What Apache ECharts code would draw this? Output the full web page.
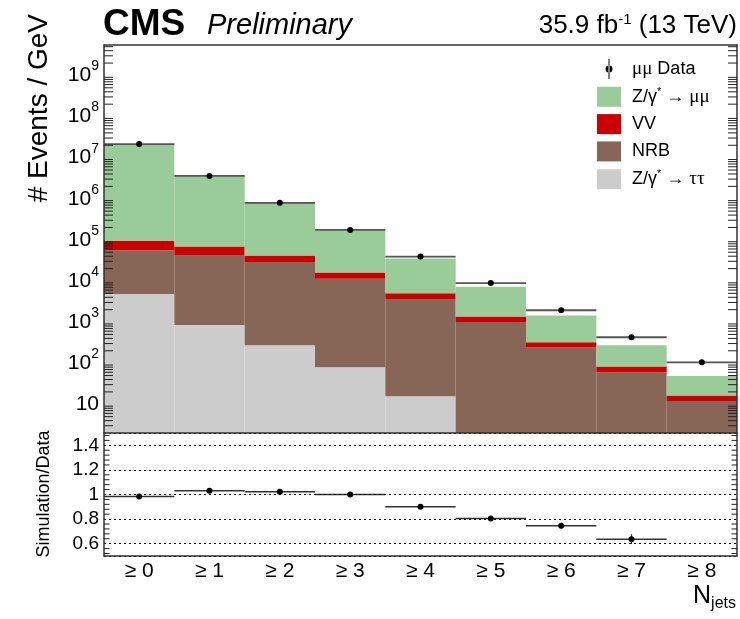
<!DOCTYPE html>
<html>
<head>
<meta charset="utf-8">
<script src="https://cdn.jsdelivr.net/npm/echarts@6/dist/echarts.min.js"></script>
<style>
  html, body { margin: 0; padding: 0; background: #fff; }
  #chart { width: 740px; height: 619px; }
</style>
</head>
<body>
<div id="chart"></div>
<script>
// Jet-multiplicity bins
const categories = ['≥ 0', '≥ 1', '≥ 2', '≥ 3', '≥ 4', '≥ 5', '≥ 6', '≥ 7', '≥ 8'];

// Stacked simulation contributions (events / GeV), bottom to top
const zTauTau = [4800, 850, 273, 79, 15.7, 0, 0, 0, 0];
const nrb     = [51000, 42000, 28700, 11300, 3630, 1000, 239, 60, 12.0];
const vv      = [38000, 26000, 12500, 4600, 1350, 360, 84, 22.6, 4.3];
const zMuMu   = [2.10e7, 3.63e6, 7.7e5, 1.58e5, 3.03e4, 5840, 1120, 190, 32.6];

// Observed dimuon events
const dataYield = [2.14e7, 3.59e6, 7.95e5, 1.74e5, 3.92e4, 8900, 1940, 427, 105];

// Simulation / data ratio and its uncertainty
const ratio    = [0.984, 1.030, 1.022, 1.000, 0.901, 0.804, 0.745, 0.637, 0.466];
const ratioErr = [0.002, 0.002, 0.003, 0.004, 0.007, 0.012, 0.020, 0.040, 0.070];

const FONT = 'Liberation Sans';
const FRAME = '#333';
const Y_MIN = 2, Y_MAX = 5.5e9;
const R_MIN = 0.5, R_MAX = 1.5;

// cumulative stack boundaries
const layers = [
  { name: 'Z/γ* → ττ', color: '#cccccc', values: zTauTau },
  { name: 'NRB',        color: '#876658', values: nrb },
  { name: 'VV',         color: '#cc0000', values: vv },
  { name: 'Z/γ* → μμ', color: '#99cc99', values: zMuMu }
];
const running = categories.map(() => 0);
layers.forEach(l => {
  l.rows = categories.map((c, i) => {
    const lo = running[i];
    running[i] += l.values[i];
    return [i, lo, running[i]];
  });
});

function histSeries(layer) {
  return {
    type: 'custom',
    name: layer.name,
    xAxisIndex: 0, yAxisIndex: 0,
    z: 2,
    itemStyle: { color: layer.color },
    data: layer.rows,
    renderItem(params, api) {
      const i = api.value(0), lo = api.value(1), hi = api.value(2);
      if (!(hi > lo) || hi <= Y_MIN) return null;
      const cs = params.coordSys;
      const w = cs.width / categories.length;
      const cx = api.coord([i, hi])[0];
      const yTop = Math.max(cs.y, api.coord([i, hi])[1]);
      const yBot = lo > Y_MIN ? api.coord([i, lo])[1] : cs.y + cs.height;
      return {
        type: 'rect',
        shape: { x: cx - w / 2, y: yTop, width: w, height: yBot - yTop },
        style: { fill: layer.color }
      };
    }
  };
}

// minor ticks: 2..9 per decade on the log scale
const logMinor = [];
for (let k = 0; k <= 9; k++) {
  for (let m = 2; m <= 9; m++) {
    const v = m * Math.pow(10, k);
    if (v > Y_MIN && v < Y_MAX) logMinor.push([0, v]);
  }
}
// minor ticks every 0.04 on the ratio scale
const ratioMinor = [];
for (let j = 13; j <= 37; j++) {
  if (j % 5 !== 0) ratioMinor.push([0, +(j * 0.04).toFixed(2)]);
}

function tickSeries(xi, yi, data, len) {
  return {
    type: 'custom',
    xAxisIndex: xi, yAxisIndex: yi,
    silent: true,
    z: 6,
    data,
    renderItem(params, api) {
      const cs = params.coordSys;
      const y = api.coord([0, api.value(1)])[1];
      return {
        type: 'group',
        children: [
          { type: 'line', shape: { x1: cs.x, y1: y, x2: cs.x + len, y2: y },
            style: { stroke: '#222', lineWidth: 1 } },
          { type: 'line', shape: { x1: cs.x + cs.width - len, y1: y, x2: cs.x + cs.width, y2: y },
            style: { stroke: '#222', lineWidth: 1 } }
        ]
      };
    }
  };
}

const dataSeries = {
  type: 'custom',
  name: 'μμ Data',
  xAxisIndex: 0, yAxisIndex: 0,
  z: 4,
  itemStyle: { color: '#000' },
  data: dataYield.map((v, i) => [i, v]),
  renderItem(params, api) {
    const cs = params.coordSys;
    const w = cs.width / categories.length;
    const p = api.coord([api.value(0), api.value(1)]);
    return {
      type: 'group',
      children: [
        { type: 'line', shape: { x1: p[0] - w / 2, y1: p[1], x2: p[0] + w / 2, y2: p[1] },
          style: { stroke: '#555', lineWidth: 1.8 } },
        { type: 'circle', shape: { cx: p[0], cy: p[1], r: 3 }, style: { fill: '#000' } }
      ]
    };
  }
};

const ratioSeries = {
  type: 'custom',
  name: 'ratio',
  xAxisIndex: 2, yAxisIndex: 2,
  z: 4,
  data: ratio.map((v, i) => [i, v, ratioErr[i]]),
  renderItem(params, api) {
    const v = api.value(1), e = api.value(2);
    if (v < R_MIN || v > R_MAX) return null;
    const cs = params.coordSys;
    const w = cs.width / categories.length;
    const p = api.coord([api.value(0), v]);
    const yHi = Math.max(cs.y, api.coord([0, v + e])[1]);
    const yLo = Math.min(cs.y + cs.height, api.coord([0, v - e])[1]);
    return {
      type: 'group',
      children: [
        { type: 'line', shape: { x1: p[0] - w / 2, y1: p[1], x2: p[0] + w / 2, y2: p[1] },
          style: { stroke: '#333', lineWidth: 1.5 } },
        { type: 'line', shape: { x1: p[0], y1: yHi, x2: p[0], y2: yLo },
          style: { stroke: '#333', lineWidth: 1.2 } },
        { type: 'circle', shape: { cx: p[0], cy: p[1], r: 3 }, style: { fill: '#000' } }
      ]
    };
  }
};

const frameLine = { show: true, onZero: false, lineStyle: { color: FRAME, width: 1.5 } };

const option = {
  animation: false,
  backgroundColor: '#fff',
  textStyle: { fontFamily: FONT, color: '#000' },
  grid: [
    { left: 104, top: 45, width: 633, height: 388 },
    { left: 104, top: 433, width: 633, height: 123 }
  ],
  xAxis: [
    { gridIndex: 0, type: 'category', position: 'bottom', data: categories, z: 5,
      axisLine: frameLine,
      axisTick: { inside: true, alignWithLabel: true, length: 10, interval: 0, lineStyle: { color: '#222' } },
      axisLabel: { show: false }, splitLine: { show: false } },
    { gridIndex: 0, type: 'category', position: 'top', data: categories, z: 5,
      axisLine: frameLine,
      axisTick: { inside: true, alignWithLabel: true, length: 10, interval: 0, lineStyle: { color: '#222' } },
      axisLabel: { show: false }, splitLine: { show: false } },
    { gridIndex: 1, type: 'category', position: 'bottom', data: categories, z: 5,
      axisLine: frameLine,
      axisTick: { inside: true, alignWithLabel: true, length: 5, interval: 0, lineStyle: { color: '#222' } },
      axisLabel: { show: true, interval: 0, margin: 5, fontSize: 21, color: '#000', fontFamily: FONT },
      splitLine: { show: false } }
  ],
  yAxis: [
    { gridIndex: 0, type: 'log', logBase: 10, min: Y_MIN, max: Y_MAX, position: 'left', z: 5,
      axisLine: frameLine,
      axisTick: { inside: true, length: 18, lineStyle: { color: '#222' } },
      splitLine: { show: false },
      axisLabel: {
        showMinLabel: false, showMaxLabel: false, margin: 5, color: '#000',
        formatter(v) {
          const e = Math.round(Math.log10(v));
          return e === 1 ? '{b|10}' : '{b|10}{s|' + e + '}';
        },
        rich: {
          b: { fontSize: 21, lineHeight: 22, fontFamily: FONT, color: '#000' },
          s: { fontSize: 14, lineHeight: 14, padding: [0, 0, 18, 0], fontFamily: FONT, color: '#000' }
        }
      } },
    { gridIndex: 0, type: 'log', logBase: 10, min: Y_MIN, max: Y_MAX, position: 'right', z: 5,
      axisLine: frameLine,
      axisTick: { inside: true, length: 18, lineStyle: { color: '#222' } },
      splitLine: { show: false }, axisLabel: { show: false } },
    { gridIndex: 1, type: 'value', min: R_MIN, max: R_MAX, position: 'left', z: 5,
      axisLine: frameLine,
      axisTick: { inside: true, length: 11, lineStyle: { color: '#222' } },
      splitLine: { show: true, lineStyle: { type: [2, 3], color: '#000', width: 1 } },
      axisLabel: { showMinLabel: false, showMaxLabel: false, margin: 5, fontSize: 19, color: '#000', fontFamily: FONT } },
    { gridIndex: 1, type: 'value', min: R_MIN, max: R_MAX, position: 'right', z: 5,
      axisLine: frameLine,
      axisTick: { inside: true, length: 11, lineStyle: { color: '#222' } },
      splitLine: { show: false }, axisLabel: { show: false } }
  ],
  legend: {
    orient: 'vertical',
    left: 597, top: 59,
    padding: 0,
    itemWidth: 24, itemHeight: 20, itemGap: 7.3,
    selectedMode: false,
    data: [
      { name: 'μμ Data', icon: 'path://M11.5,0 h1 v20 h-1 Z M12,6.5 a3.5,3.5 0 1,0 0.001,0 Z' },
      { name: 'Z/γ* → μμ', icon: 'rect' },
      { name: 'VV', icon: 'rect' },
      { name: 'NRB', icon: 'rect' },
      { name: 'Z/γ* → ττ', icon: 'rect' }
    ],
    formatter(name) {
      return name
        .replace('*', '{sup|*}')
        .replace('μμ', '{g|μμ}')
        .replace('ττ', '{g|ττ}');
    },
    textStyle: {
      fontSize: 18, fontFamily: FONT, color: '#000', padding: [0, 0, 0, 6],
      rich: {
        g: { fontSize: 19, fontFamily: 'Liberation Serif', color: '#000' },
        sup: { fontSize: 11, padding: [0, 0, 10, 0], verticalAlign: 'top', color: '#000' }
      }
    }
  },
  graphic: [
    { type: 'text', x: 103, y: 25,
      style: { text: 'CMS', font: 'bold 37px "Liberation Sans"', fill: '#000', align: 'left', verticalAlign: 'middle' } },
    { type: 'text', x: 207, y: 26,
      style: { text: 'Preliminary', font: 'italic 29px "Liberation Sans"', fill: '#000', align: 'left', verticalAlign: 'middle' } },
    { type: 'text', x: 737, y: 26,
      style: {
        text: '35.9 fb{s|-1} (13 TeV)', font: '26px "Liberation Sans"', fill: '#000', align: 'right', verticalAlign: 'middle',
        rich: { s: { fontSize: 15, fontFamily: FONT, padding: [0, 0, 12, 0], verticalAlign: 'top' } }
      } },
    { type: 'text', x: 39, y: 14, rotation: Math.PI / 2,
      style: { text: '# Events / GeV', font: '28px "Liberation Sans"', fill: '#000', align: 'right', verticalAlign: 'middle' } },
    { type: 'text', x: 44, y: 494, rotation: Math.PI / 2,
      style: { text: 'Simulation/Data', font: '18px "Liberation Sans"', fill: '#000', align: 'center', verticalAlign: 'middle' } },
    { type: 'text', x: 736, y: 596,
      style: {
        text: 'N{j|jets}', font: '25px "Liberation Sans"', fill: '#000', align: 'right', verticalAlign: 'middle',
        rich: { j: { fontSize: 16, fontFamily: FONT, padding: [16, 0, 0, 0], verticalAlign: 'bottom' } }
      } }
  ],
  series: [
    ...layers.map(histSeries),
    dataSeries,
    ratioSeries,
    tickSeries(0, 0, logMinor, 9),
    tickSeries(2, 2, ratioMinor, 5.5)
  ]
};

const chart = echarts.init(document.getElementById('chart'), null, { renderer: 'canvas' });
chart.setOption(option);
</script>
</body>
</html>
